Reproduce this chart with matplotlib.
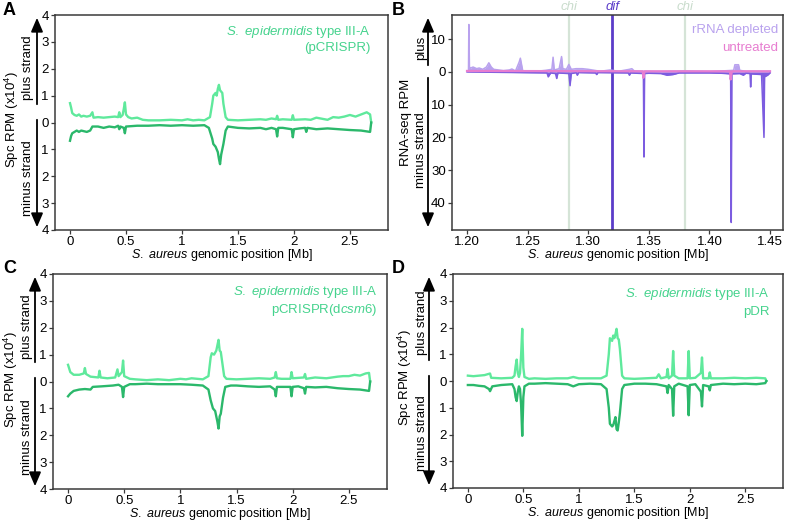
import numpy as np
import matplotlib
matplotlib.use('Agg')
import matplotlib.pyplot as plt

plt.rcParams['font.family'] = ['Liberation Sans', 'DejaVu Sans']
plt.rcParams['mathtext.fontset'] = 'custom'
plt.rcParams['mathtext.rm'] = 'Liberation Sans'
plt.rcParams['mathtext.it'] = 'Liberation Sans:italic'

# ---- data (Spc RPM x10^4, minus strand given as magnitude) ----
a_plus_x = [0.00, 0.01, 0.02, 0.04, 0.06, 0.08, 0.10, 0.12, 0.15, 0.18, 0.20, 0.21, 0.25, 0.30, 0.35, 0.40,
            0.43, 0.44, 0.45, 0.47, 0.48, 0.49, 0.50, 0.52, 0.55, 0.60, 0.65, 0.70, 0.80, 0.90, 1.00, 1.05,
            1.10, 1.15, 1.20, 1.25, 1.27, 1.28, 1.30, 1.31, 1.32, 1.33, 1.34, 1.36, 1.37, 1.39, 1.41, 1.50,
            1.60, 1.70, 1.75, 1.80, 1.84, 1.85, 1.86, 1.90, 1.98, 1.99, 2.00, 2.10, 2.15, 2.20, 2.30, 2.35,
            2.40, 2.45, 2.50, 2.55, 2.60, 2.65, 2.68, 2.69]
a_plus_y = [0.72, 0.55, 0.35, 0.28, 0.25, 0.30, 0.22, 0.25, 0.22, 0.25, 0.38, 0.18, 0.20, 0.18, 0.20, 0.22,
            0.20, 0.38, 0.20, 0.28, 0.50, 0.75, 0.30, 0.20, 0.15, 0.18, 0.10, 0.08, 0.08, 0.10, 0.08, 0.12,
            0.08, 0.10, 0.08, 0.20, 0.70, 1.00, 1.10, 1.00, 1.25, 1.40, 1.20, 1.10, 0.70, 0.20, 0.10, 0.08,
            0.10, 0.12, 0.10, 0.15, 0.12, 0.25, 0.10, 0.12, 0.10, 0.27, 0.10, 0.12, 0.10, 0.18, 0.10, 0.20,
            0.18, 0.22, 0.28, 0.22, 0.30, 0.38, 0.30, 0.00]
a_minus_x = [0.00, 0.01, 0.02, 0.04, 0.06, 0.08, 0.10, 0.15, 0.18, 0.20, 0.25, 0.30, 0.35, 0.40, 0.43, 0.44,
             0.45, 0.48, 0.49, 0.50, 0.60, 0.70, 0.80, 0.90, 1.00, 1.10, 1.20, 1.24, 1.27, 1.28, 1.30, 1.32,
             1.33, 1.34, 1.35, 1.37, 1.39, 1.41, 1.50, 1.60, 1.70, 1.75, 1.80, 1.84, 1.85, 1.86, 1.90, 1.98,
             1.99, 2.00, 2.05, 2.10, 2.11, 2.12, 2.20, 2.30, 2.40, 2.50, 2.60, 2.68, 2.69]
a_minus_y = [0.68, 0.50, 0.40, 0.35, 0.30, 0.35, 0.30, 0.35, 0.30, 0.15, 0.15, 0.20, 0.15, 0.18, 0.12, 0.25,
             0.15, 0.20, 0.40, 0.15, 0.12, 0.12, 0.10, 0.12, 0.10, 0.12, 0.10, 0.20, 0.60, 0.80, 0.90, 1.10,
             1.35, 1.55, 1.20, 0.80, 0.30, 0.15, 0.20, 0.22, 0.20, 0.25, 0.20, 0.25, 0.52, 0.20, 0.20, 0.25,
             0.55, 0.25, 0.22, 0.20, 0.35, 0.20, 0.25, 0.22, 0.25, 0.28, 0.30, 0.35, 0.00]

c_plus_x = [0.00, 0.02, 0.05, 0.10, 0.14, 0.15, 0.16, 0.20, 0.27, 0.28, 0.29, 0.35, 0.42, 0.44, 0.45, 0.48,
            0.49, 0.50, 0.55, 0.60, 0.70, 0.80, 0.90, 1.00, 1.05, 1.10, 1.15, 1.20, 1.25, 1.27, 1.28, 1.30,
            1.32, 1.33, 1.34, 1.35, 1.36, 1.37, 1.39, 1.41, 1.50, 1.60, 1.70, 1.80, 1.84, 1.85, 1.86, 1.90,
            1.98, 1.99, 2.00, 2.10, 2.11, 2.12, 2.20, 2.30, 2.40, 2.45, 2.50, 2.55, 2.60, 2.65, 2.68, 2.69]
c_plus_y = [0.62, 0.35, 0.25, 0.25, 0.30, 0.50, 0.28, 0.18, 0.15, 0.40, 0.15, 0.12, 0.15, 0.45, 0.20, 0.35,
            0.78, 0.20, 0.10, 0.08, 0.05, 0.08, 0.05, 0.10, 0.08, 0.12, 0.10, 0.08, 0.20, 0.90, 1.05, 1.00,
            1.15, 1.35, 1.55, 1.15, 1.10, 0.80, 0.20, 0.10, 0.08, 0.10, 0.12, 0.10, 0.15, 0.35, 0.12, 0.10,
            0.10, 0.35, 0.12, 0.15, 0.28, 0.10, 0.15, 0.12, 0.18, 0.20, 0.20, 0.25, 0.22, 0.30, 0.32, 0.00]
c_minus_x = [0.00, 0.02, 0.05, 0.10, 0.15, 0.20, 0.22, 0.30, 0.40, 0.45, 0.48, 0.49, 0.50, 0.55, 0.60, 0.70,
             0.80, 0.90, 1.00, 1.10, 1.20, 1.25, 1.27, 1.29, 1.31, 1.32, 1.33, 1.34, 1.35, 1.36, 1.38, 1.40,
             1.45, 1.50, 1.60, 1.70, 1.80, 1.84, 1.85, 1.86, 1.90, 1.98, 1.99, 2.00, 2.05, 2.10, 2.11, 2.12,
             2.20, 2.30, 2.40, 2.50, 2.60, 2.68, 2.69]
c_minus_y = [0.55, 0.45, 0.35, 0.30, 0.28, 0.30, 0.20, 0.18, 0.15, 0.12, 0.20, 0.58, 0.20, 0.10, 0.10, 0.08,
             0.10, 0.10, 0.10, 0.12, 0.15, 0.30, 0.70, 1.00, 1.10, 1.30, 1.50, 1.75, 1.30, 1.20, 0.60, 0.20,
             0.15, 0.15, 0.18, 0.20, 0.18, 0.30, 0.55, 0.20, 0.20, 0.20, 0.55, 0.20, 0.18, 0.25, 0.45, 0.20,
             0.22, 0.20, 0.25, 0.28, 0.30, 0.35, 0.00]

d_plus_x = [0.00, 0.05, 0.10, 0.15, 0.20, 0.21, 0.30, 0.40, 0.42, 0.43, 0.44, 0.45, 0.46, 0.47, 0.48, 0.49,
            0.50, 0.51, 0.55, 0.60, 0.70, 0.80, 0.90, 0.95, 1.00, 1.10, 1.20, 1.25, 1.27, 1.28, 1.30, 1.31,
            1.32, 1.33, 1.34, 1.35, 1.36, 1.37, 1.39, 1.41, 1.50, 1.60, 1.70, 1.72, 1.74, 1.79, 1.80, 1.81,
            1.84, 1.85, 1.86, 1.90, 1.98, 1.99, 2.00, 2.05, 2.10, 2.11, 2.12, 2.17, 2.18, 2.19, 2.30, 2.40,
            2.50, 2.60, 2.68, 2.69]
d_plus_y = [0.20, 0.18, 0.20, 0.22, 0.28, 0.12, 0.10, 0.12, 0.20, 0.55, 0.80, 0.30, 0.15, 0.30, 1.00, 1.95,
            0.50, 0.15, 0.08, 0.10, 0.08, 0.10, 0.10, 0.15, 0.10, 0.10, 0.10, 0.20, 1.00, 1.60, 1.50, 1.70,
            1.60, 1.75, 1.95, 1.60, 1.55, 1.20, 0.20, 0.10, 0.08, 0.10, 0.12, 0.25, 0.10, 0.15, 0.45, 0.10,
            0.20, 1.12, 0.20, 0.10, 0.10, 1.12, 0.10, 0.12, 0.30, 0.88, 0.10, 0.10, 0.32, 0.10, 0.10, 0.12,
            0.10, 0.12, 0.10, 0.00]
d_minus_x = [0.00, 0.05, 0.10, 0.15, 0.19, 0.20, 0.22, 0.30, 0.40, 0.42, 0.43, 0.44, 0.45, 0.46, 0.47, 0.48,
             0.49, 0.50, 0.51, 0.55, 0.60, 0.70, 0.80, 0.90, 0.95, 1.00, 1.10, 1.20, 1.25, 1.27, 1.28, 1.30,
             1.31, 1.32, 1.33, 1.34, 1.35, 1.36, 1.37, 1.39, 1.41, 1.50, 1.60, 1.70, 1.79, 1.80, 1.81, 1.84,
             1.85, 1.86, 1.90, 1.98, 1.99, 2.00, 2.05, 2.10, 2.11, 2.12, 2.17, 2.18, 2.19, 2.30, 2.40, 2.50,
             2.60, 2.68, 2.69]
d_minus_y = [0.15, 0.15, 0.18, 0.20, 0.30, 0.38, 0.20, 0.15, 0.12, 0.30, 0.60, 0.75, 0.40, 0.20, 0.30, 0.90,
             2.05, 0.60, 0.20, 0.10, 0.10, 0.08, 0.10, 0.12, 0.20, 0.12, 0.10, 0.12, 0.30, 1.00, 1.60, 1.70,
             1.65, 1.50, 1.35, 1.80, 1.85, 1.55, 1.20, 0.30, 0.15, 0.10, 0.10, 0.12, 0.20, 0.45, 0.15, 0.30,
             1.30, 0.20, 0.10, 0.20, 1.28, 0.15, 0.12, 0.40, 0.95, 0.15, 0.20, 0.35, 0.15, 0.10, 0.12, 0.10,
             0.12, 0.08, 0.00]

# RNA-seq RPM around dif (Mb)
b_plus_x = [1.2000, 1.2012, 1.2015, 1.2020, 1.2030, 1.2050, 1.2080, 1.2100, 1.2130, 1.2160, 1.2180, 1.2200,
            1.2220, 1.2260, 1.2300, 1.2350, 1.2370, 1.2400, 1.2430, 1.2440, 1.2460, 1.2500, 1.2550, 1.2600,
            1.2650, 1.2700, 1.2710, 1.2720, 1.2760, 1.2780, 1.2790, 1.2820, 1.2840, 1.2860, 1.2900, 1.2950,
            1.3000, 1.3050, 1.3100, 1.3180, 1.3200, 1.3250, 1.3340, 1.3360, 1.3380, 1.3450, 1.3600, 1.3800,
            1.4000, 1.4200, 1.4210, 1.4240, 1.4250, 1.4300, 1.4500]
b_plus_y = [0.3, 0.3, 14.5, 1.5, 1.2, 1.5, 1.0, 1.2, 0.8, 1.5, 2.8, 1.5,
            0.8, 0.6, 0.4, 0.6, 0.9, 0.3, 3.0, 4.2, 0.3, 0.3, 0.2, 0.3,
            0.5, 0.8, 4.5, 0.6, 1.0, 4.7, 1.0, 0.8, 2.3, 0.8, 1.0, 1.0,
            0.8, 0.5, 0.2, 0.6, 0.5, 0.2, 0.8, 1.0, 0.3, 0.2, 0.1, 0.3,
            0.1, 0.5, 2.2, 2.2, 0.5, 0.2, 0.2]
b_minus_x = [1.2000, 1.2660, 1.2670, 1.2690, 1.2730, 1.2740, 1.2750, 1.2840, 1.2850, 1.2860, 1.2900, 1.2910,
             1.2920, 1.3060, 1.3070, 1.3080, 1.3330, 1.3340, 1.3350, 1.3455, 1.3460, 1.3465, 1.3500, 1.3600,
             1.3650, 1.3700, 1.3750, 1.4000, 1.4100, 1.4175, 1.4180, 1.4185, 1.4250, 1.4280, 1.4300, 1.4335,
             1.4340, 1.4345, 1.4430, 1.4450, 1.4455, 1.4480, 1.4500]
b_minus_y = [0.0, 0.3, 1.5, 0.3, 0.5, 2.0, 0.3, 0.5, 4.2, 0.5, 0.2, 1.0,
             0.2, 0.3, 0.8, 0.2, 0.3, 1.0, 0.3, 0.5, 26.0, 0.5, 0.4, 0.5,
             1.0, 0.8, 0.3, 0.3, 0.4, 0.6, 46.0, 0.6, 0.5, 1.0, 0.4, 0.5,
             4.6, 0.6, 0.8, 20.0, 1.5, 1.0, 0.3]
untreated_x = [1.2000, 1.3450, 1.3455, 1.3465, 1.4170, 1.4175, 1.4185, 1.4500]
untreated_y = [0.3, 0.2, -1.8, 0.2, 0.2, -2.3, 0.2, 0.2]
chi_sites = [1.284, 1.380]
dif_site = 1.32

green_ticks = [0, 0.5, 1, 1.5, 2, 2.5]
green_ticklabels = ['0', '0.5', '1', '1.5', '2', '2.5']
rpm_ticks = [-4, -3, -2, -1, 0, 1, 2, 3, 4]
rpm_ticklabels = ['4', '3', '2', '1', '0', '1', '2', '3', '4']
b_xticks = [1.20, 1.25, 1.30, 1.35, 1.40, 1.45]
b_yticks = [-40, -30, -20, -10, 0, 10]
b_yticklabels = ['40', '30', '20', '10', '0', '10']

LIGHT = '#5FE99C'
DARK = '#2BB86B'
TXT_GREEN = '#45D38D'
XLABEL = r'$\mathit{S.\ aureus}$ genomic position [Mb]'
FS = 9

W, H = 787, 521
fig = plt.figure(figsize=(W / 100, H / 100), dpi=100)


def add_axes_px(left, top, right, bottom):
    return fig.add_axes([left / W, 1 - bottom / H, (right - left) / W, (bottom - top) / H])


def style(ax, height_px):
    for s in ax.spines.values():
        s.set_color('#3a3a3a')
        s.set_linewidth(1.1)
    ax.tick_params(labelsize=9.5, length=3, width=0.9, color='#3a3a3a', pad=1.5)
    ax.set_xlabel(XLABEL, fontsize=FS)
    ax.xaxis.set_label_coords(0.5, -17 / height_px)
    ax.xaxis.label.set_va('top')


def strand_arrows(x, top, gap_top, gap_bot, bottom, texts):
    # vertical double arrow with gap at 0, in figure pixels
    kw = dict(arrowstyle='-|>,head_length=0.7,head_width=0.3', color='black', lw=1.3, mutation_scale=12)
    fig.add_artist(matplotlib.patches.FancyArrowPatch((x / W, 1 - gap_top / H), (x / W, 1 - top / H),
                                                      transform=fig.transFigure, **kw))
    fig.add_artist(matplotlib.patches.FancyArrowPatch((x / W, 1 - gap_bot / H), (x / W, 1 - bottom / H),
                                                      transform=fig.transFigure, **kw))
    for tx, ty, s in texts:
        fig.text(tx / W, 1 - ty / H, s, rotation=90, ha='center', va='center', fontsize=FS + 0.5)


def green_panel(ax, px, py, mx, my, line2, height_px, tx, ty1, ty2):
    ax.plot(px, py, color=LIGHT, lw=1.7)
    ax.plot(mx, -np.array(my), color=DARK, lw=1.7)
    ax.set_xlim(-0.134, 2.84)
    ax.set_ylim(-4, 4)
    ax.set_xticks(green_ticks)
    ax.set_xticklabels(green_ticklabels)
    ax.set_yticks(rpm_ticks)
    ax.set_yticklabels(rpm_ticklabels)
    style(ax, height_px)
    ax.text(tx, ty1, r'$\mathit{S.\ epidermidis}$ type III-A', transform=ax.transAxes,
            ha='right', va='center', color=TXT_GREEN, fontsize=FS + 0.5)
    ax.text(tx, ty2, line2, transform=ax.transAxes, ha='right', va='center', color=TXT_GREEN, fontsize=FS + 0.5)


# A
axA = add_axes_px(55, 15, 388, 230)
green_panel(axA, a_plus_x, a_plus_y, a_minus_x, a_minus_y, '(pCRISPR)', 215, 0.946, 0.921, 0.847)
strand_arrows(37, 15, 107, 117, 230, [(28, 68, 'plus strand'), (28, 178, 'minus strand'),
                                       (12, 120, r'Spc RPM (x10$^4$)')])

# C
axC = add_axes_px(53, 274, 387, 489)
green_panel(axC, c_plus_x, c_plus_y, c_minus_x, c_minus_y, r'pCRISPR(d$\mathit{csm6}$)', 215, 0.97, 0.917, 0.833)
strand_arrows(35, 274, 365, 375, 489, [(27, 327, 'plus strand'), (27, 437, 'minus strand'),
                                       (11, 380, r'Spc RPM (x10$^4$)')])

# D
axD = add_axes_px(453, 274, 783, 488)
green_panel(axD, d_plus_x, d_plus_y, d_minus_x, d_minus_y, 'pDR', 214, 0.96, 0.907, 0.822)
strand_arrows(429, 274, 363, 373, 488, [(422, 323, 'plus strand'), (422, 433, 'minus strand'),
                                        (405, 378, r'Spc RPM (x10$^4$)')])

# B
axB = add_axes_px(452, 15, 783, 230)
for c in chi_sites:
    axB.axvline(c, color='#D5E4D7', lw=1.6, zorder=0)
    axB.text(c, 1.01, 'chi', transform=axB.get_xaxis_transform(), ha='center', va='bottom',
             style='italic', color='#C9DCCC', fontsize=FS + 0.5)
axB.axvline(dif_site, color='#5B3CC9', lw=2, zorder=1)
axB.text(dif_site, 1.01, 'dif', transform=axB.get_xaxis_transform(), ha='center', va='bottom',
         style='italic', color='#5B3CC9', fontsize=FS + 0.5)
axB.fill_between(b_plus_x, 0, b_plus_y, color='#B9A2EE', lw=0)
axB.plot(b_plus_x, b_plus_y, color='#B9A2EE', lw=1.1)
bm = -np.array(b_minus_y)
axB.fill_between(b_minus_x, 0, bm, color='#7C5CE0', lw=0)
axB.plot(b_minus_x, bm, color='#7C5CE0', lw=1.1)
axB.plot(untreated_x, untreated_y, color='#E77DD0', lw=1.6)
axB.set_xlim(1.1876, 1.4607)
axB.set_ylim(-48.3, 17.4)
axB.set_xticks(b_xticks)
axB.set_xticklabels(['%.2f' % t for t in b_xticks])
axB.set_yticks(b_yticks)
axB.set_yticklabels(b_yticklabels)
style(axB, 215)
axB.text(0.985, 0.93, 'rRNA depleted', transform=axB.transAxes, ha='right', va='center',
         color='#B9A2EE', fontsize=FS + 0.5)
axB.text(0.985, 0.847, 'untreated', transform=axB.transAxes, ha='right', va='center',
         color='#E77DD0', fontsize=FS + 0.5)
strand_arrows(428, 15, 68, 75, 230, [(421, 48, 'plus'), (421, 150, 'minus strand'),
                                     (406, 122, 'RNA-seq RPM')])

# panel letters
for s, x, y in [('A', 3, 2), ('B', 392, 2), ('C', 3, 260), ('D', 392, 260)]:
    fig.text(x / W, 1 - y / H, s, fontsize=13, fontweight='bold', ha='left', va='top')

fig.savefig('out.png', dpi=100)
